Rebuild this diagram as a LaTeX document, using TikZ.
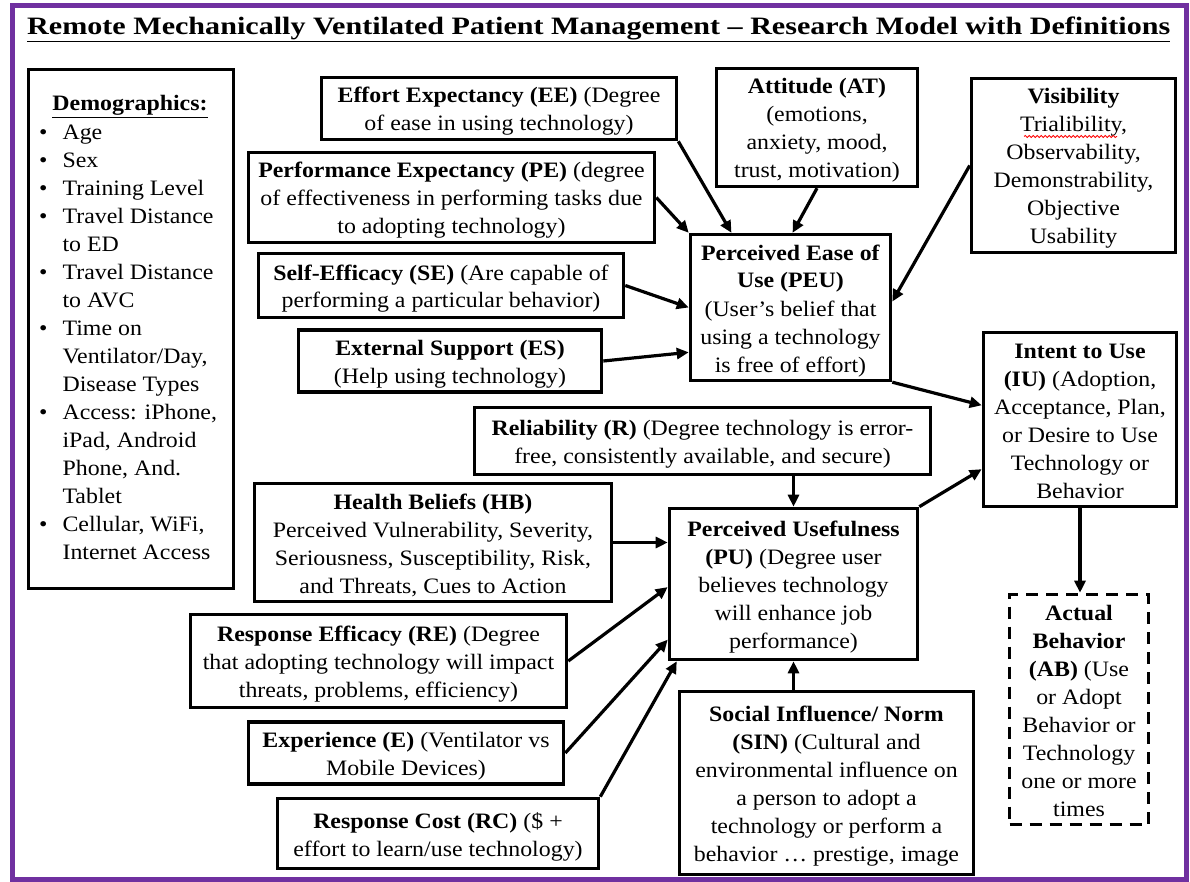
\documentclass[tikz,border=0pt]{standalone}
\usepackage{fontspec}
\setmainfont{Liberation Serif}[FakeStretch=1.085]
\usetikzlibrary{arrows.meta,calc,decorations.pathmorphing}
\definecolor{framepurple}{HTML}{7030A0}
\newcommand\boxfont{\fontsize{22}{28}\selectfont}
% box text with fixed top and bottom padding so every block centres the same way
\newcommand\bx[1]{\rule{0pt}{25.4pt}#1\strut}

\begin{document}
\begin{tikzpicture}[x=1pt,y=-1pt,
  box/.style={draw, line width=3.6pt, align=center, inner sep=0pt, font=\boxfont},
  dashbox/.style={box, dash pattern=on 12pt off 8pt},
  link/.style={line width=3.2pt, -{Triangle[length=12pt,width=11pt]}},
  ]
\useasboundingbox (0,0) rectangle (1190,882);
\draw[framepurple, line width=5pt] (12,5.5) rectangle (1186,879);

% heading
\node[anchor=base west, inner sep=0pt] (title) at (27,34.5)
  {\resizebox{1143pt}{\height}{\fontsize{25}{28}\selectfont\bfseries
   \underline{Remote Mechanically Ventilated Patient Management – Research Model with Definitions}}};

% demographics panel
\node[box, minimum width=205, minimum height=519] (demo) at (131,329) {};
\node[anchor=base, inner sep=0pt, font=\boxfont\bfseries] (demohead) at (130,111) {\underline{Demographics:}};
\node[anchor=north west, inner sep=0pt, align=left, font=\boxfont] (demolist) at (39,119.5)
  {\begin{tabular}{@{}l@{\hspace{15pt}}l@{}}
   • & Age\\
   • & Sex\\
   • & Training Level\\
   • & Travel Distance\\
     & to ED\\
   • & Travel Distance\\
     & to AVC\\
   • & Time on\\
     & Ventilator/Day,\\
     & Disease Types\\
   • & Access: iPhone,\\
     & iPad, Android\\
     & Phone, And.\\
     & Tablet\\
   • & Cellular, WiFi,\\
     & Internet Access
   \end{tabular}};

% constructs feeding perceived ease of use
\node[box, minimum width=355, minimum height=62] (ee) at (499,108.5)
  {\bx{\textbf{Effort Expectancy (EE)} (Degree\\of ease in using technology)}};
\node[box, minimum width=406, minimum height=86] (pe) at (451.5,197.5)
  {\bx{\textbf{Performance Expectancy (PE)} (degree\\of effectiveness in performing tasks due\\to adopting technology)}};
\node[box, minimum width=365, minimum height=64] (se) at (441,285.5)
  {\bx{\textbf{Self-Efficacy (SE)} (Are capable of\\performing a particular behavior)}};
\node[box, minimum width=303, minimum height=59] (es) at (450,361)
  {\bx{\textbf{External Support (ES)}\\(Help using technology)}};
\node[box, minimum width=201, minimum height=110] (at) at (817,127.5)
  {\bx{\textbf{Attitude (AT)}\\(emotions,\\anxiety, mood,\\trust, motivation)}};
\node[box, minimum width=204, minimum height=172] (vis) at (1073.5,165.5)
  {\bx{\textbf{Visibility}\\Trialibility,\\Observability,\\Demonstrability,\\Objective\\Usability}};
\node[box, minimum width=200, minimum height=138] (peu) at (790.5,307.5)
  {\bx{\textbf{Perceived Ease of}\\\textbf{Use (PEU)}\\(User’s belief that\\using a technology\\is free of effort)}};

% outcome side
\node[box, minimum width=193, minimum height=166] (iu) at (1080,419.5)
  {\bx{\textbf{Intent to Use}\\\textbf{(IU)} (Adoption,\\Acceptance, Plan,\\or Desire to Use\\Technology or\\Behavior}};
\node[dashbox, minimum width=139, minimum height=230] (ab) at (1079,709.5)
  {\bx{\textbf{Actual}\\\textbf{Behavior}\\\textbf{(AB)} (Use\\or Adopt\\Behavior or\\Technology\\one or more\\times}};

% constructs feeding perceived usefulness
\node[box, minimum width=456, minimum height=67] (rel) at (702.5,441)
  {\bx{\textbf{Reliability (R)} (Degree technology is error-\\free, consistently available, and secure)}};
\node[box, minimum width=357, minimum height=110] (hb) at (433,542.5)
  {\bx{\textbf{Health Beliefs (HB)}\\Perceived Vulnerability, Severity,\\Seriousness, Susceptibility, Risk,\\and Threats, Cues to Action}};
\node[box, minimum width=248, minimum height=151] (pu) at (793.5,584)
  {\bx{\textbf{Perceived Usefulness}\\\textbf{(PU)} (Degree user\\believes technology\\will enhance job\\performance)}};
\node[box, minimum width=376, minimum height=93] (re) at (378.5,661)
  {\bx{\textbf{Response Efficacy (RE)} (Degree\\that adopting technology will impact\\threats, problems, efficiency)}};
\node[box, minimum width=315, minimum height=57] (ex) at (406,753)
  {\bx{\textbf{Experience (E)} (Ventilator vs\\Mobile Devices)}};
\node[box, minimum width=321, minimum height=70] (rc) at (438,833.5)
  {\bx{\textbf{Response Cost (RC)} (\$ +\\effort to learn/use technology)}};
\node[box, minimum width=294, minimum height=183] (sin) at (826.5,783)
  {\bx{\textbf{Social Influence/ Norm}\\\textbf{(SIN)} (Cultural and\\environmental influence on\\a person to adopt a\\technology or perform a\\behavior … prestige, image}};

% spell-check mark under Trialibility
\draw[red, line width=0.8pt, decorate, decoration={snake, amplitude=1.1pt, segment length=4pt}]
  (1024,136.5) -- (1117,136.5);

% links into perceived ease of use
\draw[link] (ee.south east) -- ($(peu.north west)!0.21!(peu.north east)$);
\draw[link] (at.south) -- ($(peu.north west)!0.51!(peu.north east)$);
\draw[link] (pe.east) -- (peu.north west);
\draw[link] (se.east) -- (peu.west);
\draw[link] (es.east) -- ($(peu.north west)!0.8!(peu.south west)$);
\draw[link] (vis.west) -- ($(peu.north east)!0.46!(peu.south east)$);

% links to intent and behavior
\draw[link] (peu.south east) -- ($(iu.north west)!0.42!(iu.south west)$);
\draw[link] (pu.north east) -- ($(iu.north west)!0.78!(iu.south west)$);
\draw[link] (iu.south) -- (iu.south |- ab.north);

% links into perceived usefulness
\draw[link] (pu.north |- rel.south) -- (pu.north);
\draw[link] (hb.east) -- (hb.east -| pu.west);
\draw[link] (re.east) -- ($(pu.north west)!0.52!(pu.south west)$);
\draw[link] (ex.east) -- ($(pu.north west)!0.86!(pu.south west)$);
\draw[link] (rc.north east) -- ($(pu.south west)!0.036!(pu.south east)$);
\draw[link] (pu.south |- sin.north) -- (pu.south);
\end{tikzpicture}
\end{document}
